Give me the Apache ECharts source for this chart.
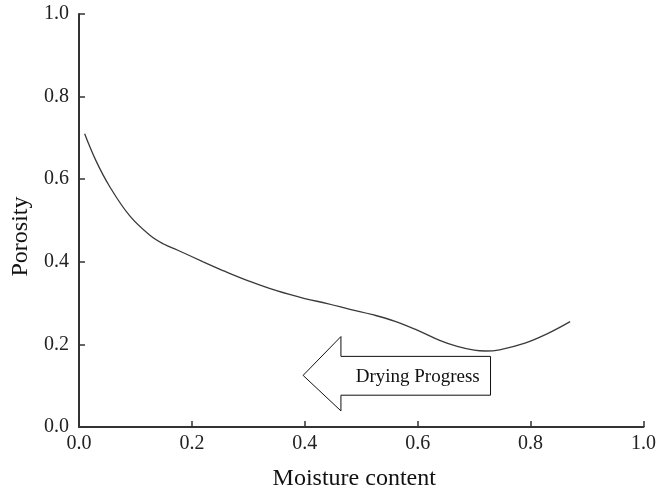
<!DOCTYPE html>
<html>
<head>
<meta charset="utf-8">
<script src="https://cdn.jsdelivr.net/npm/echarts@6/dist/echarts.min.js"></script>
<style>
  html, body { margin: 0; padding: 0; background: #fff; }
  #chart { width: 659px; height: 496px; }
</style>
</head>
<body>
<div id="chart"></div>
<script>
// curve
var moisture = [0.01, 0.03, 0.054, 0.09, 0.125, 0.15, 0.175, 0.22, 0.26, 0.30, 0.35, 0.40, 0.44, 0.48, 0.52, 0.56, 0.60, 0.64, 0.67, 0.70, 0.72, 0.745, 0.79, 0.83, 0.87];
var porosity = [0.71, 0.645, 0.583, 0.511, 0.465, 0.443, 0.428, 0.40, 0.376, 0.354, 0.330, 0.311, 0.299, 0.285, 0.272, 0.256, 0.234, 0.209, 0.195, 0.186, 0.184, 0.187, 0.203, 0.226, 0.255];

// arrow outline in data units (tip on the left)
var arrowX = [0.397, 0.464, 0.464, 0.729, 0.729, 0.464, 0.464];
var arrowY = [0.125, 0.219, 0.171, 0.171, 0.077, 0.077, 0.039];
var arrowLabel = 'Drying Progress';

var font = '"Liberation Serif", "Times New Roman", serif';
var axisColor = '#333';

var chart = echarts.init(document.getElementById('chart'));

var points = moisture.map(function (x, i) { return [x, porosity[i]]; });

var option = {
  animation: false,
  grid: { left: 79, right: 11, top: 14, bottom: 67 },
  xAxis: {
    type: 'value',
    min: 0, max: 1, interval: 0.2,
    name: 'Moisture content',
    nameLocation: 'middle',
    nameGap: 40,
    nameTextStyle: { fontFamily: font, fontSize: 24, color: '#111', padding: [0, 14, 0, 0] },
    axisLine: { lineStyle: { color: axisColor, width: 2 } },
    axisTick: { inside: true, length: 6, lineStyle: { color: axisColor, width: 1.5 } },
    axisLabel: { fontFamily: font, fontSize: 20, color: '#222', margin: 7,
      formatter: function (v) { return v.toFixed(1); } },
    splitLine: { show: false }
  },
  yAxis: {
    type: 'value',
    min: 0, max: 1, interval: 0.2,
    name: 'Porosity',
    nameLocation: 'middle',
    nameGap: 45,
    nameTextStyle: { fontFamily: font, fontSize: 24, color: '#111', padding: [0, 32, 0, 0] },
    axisLine: { lineStyle: { color: axisColor, width: 2 } },
    axisTick: { inside: true, length: 6, lineStyle: { color: axisColor, width: 1.5 } },
    axisLabel: { fontFamily: font, fontSize: 20, color: '#222', margin: 10,
      formatter: function (v) { return v.toFixed(1); } },
    splitLine: { show: false }
  },
  series: [{
    type: 'line',
    data: points,
    smooth: 0.4,
    showSymbol: false,
    lineStyle: { color: '#3a3a3a', width: 1.3 }
  }]
};
chart.setOption(option);

// arrow annotation placed through the axes
var arrowPts = arrowX.map(function (x, i) { return chart.convertToPixel({ gridIndex: 0 }, [x, arrowY[i]]); });
var mid = chart.convertToPixel({ gridIndex: 0 }, [(arrowX[2] + arrowX[3]) / 2, (arrowY[2] + arrowY[4]) / 2]);

chart.setOption({
  graphic: [
    {
      type: 'polygon',
      shape: { points: arrowPts },
      style: { fill: '#fff', stroke: '#111', lineWidth: 1 },
      z: 10
    },
    {
      type: 'text',
      x: mid[0] + 2,
      y: mid[1] + 1,
      style: {
        text: arrowLabel,
        font: '19px ' + font,
        fill: '#111',
        align: 'center',
        verticalAlign: 'middle'
      },
      z: 11
    }
  ]
});
</script>
</body>
</html>
